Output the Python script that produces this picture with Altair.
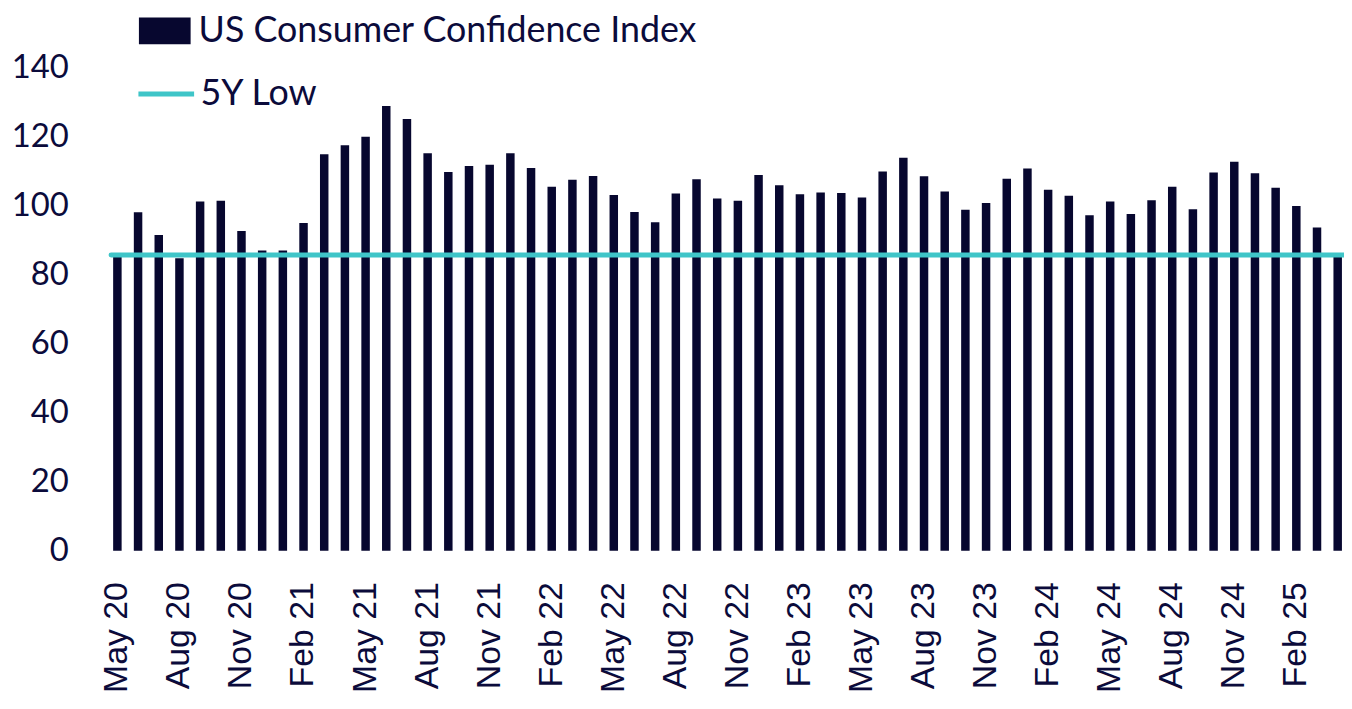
import altair as alt
import pandas as pd

months = [
    "May 20", "Jun 20", "Jul 20", "Aug 20", "Sep 20", "Oct 20", "Nov 20", "Dec 20",
    "Jan 21", "Feb 21", "Mar 21", "Apr 21", "May 21", "Jun 21", "Jul 21", "Aug 21",
    "Sep 21", "Oct 21", "Nov 21", "Dec 21",
    "Jan 22", "Feb 22", "Mar 22", "Apr 22", "May 22", "Jun 22", "Jul 22", "Aug 22",
    "Sep 22", "Oct 22", "Nov 22", "Dec 22",
    "Jan 23", "Feb 23", "Mar 23", "Apr 23", "May 23", "Jun 23", "Jul 23", "Aug 23",
    "Sep 23", "Oct 23", "Nov 23", "Dec 23",
    "Jan 24", "Feb 24", "Mar 24", "Apr 24", "May 24", "Jun 24", "Jul 24", "Aug 24",
    "Sep 24", "Oct 24", "Nov 24", "Dec 24",
    "Jan 25", "Feb 25", "Mar 25", "Apr 25",
]

cci_values = [
    85.9, 98.1, 91.5, 84.8, 101.2, 101.4, 92.7, 87.0,
    87.0, 95.0, 114.9, 117.5, 120.0, 128.9, 125.1, 115.2,
    109.8, 111.5, 111.9, 115.2,
    110.9, 105.5, 107.5, 108.6, 103.1, 98.2, 95.2, 103.5,
    107.7, 102.1, 101.4, 108.9,
    105.9, 103.3, 103.8, 103.7, 102.4, 109.9, 113.9, 108.5,
    104.1, 98.8, 100.8, 107.8,
    110.8, 104.6, 102.9, 97.2, 101.2, 97.6, 101.6, 105.5,
    99.0, 109.6, 112.7, 109.4,
    105.2, 99.9, 93.7, 85.6,
]

tick_labels = ["May 20", "Aug 20", "Nov 20", "Feb 21", "May 21", "Aug 21", "Nov 21",
               "Feb 22", "May 22", "Aug 22", "Nov 22", "Feb 23", "May 23", "Aug 23",
               "Nov 23", "Feb 24", "May 24", "Aug 24", "Nov 24", "Feb 25"]

low_value = [85.7]
bar_series = "US Consumer Confidence Index"
line_series = "5Y Low"

NAVY = "#07072F"
TEXT = "#0B0B3B"
TEAL = "#3FC5C8"

bars_df = pd.DataFrame({"month": months, "value": cci_values, "series": bar_series})
line_df = pd.DataFrame({"value": low_value, "series": [line_series]})

x = alt.X(
    "month:N",
    sort=months,
    scale=alt.Scale(paddingInner=0.59, paddingOuter=0.1),
    axis=alt.Axis(
        values=tick_labels, title=None, labelAngle=270, labelAlign="right",
        labelBaseline="middle", labelFont="Liberation Sans", labelFontSize=34,
        labelColor=TEXT, ticks=False, domain=False, labelPadding=31,
        labelOverlap=False,
    ),
)
y_axis = alt.Axis(
    values=[0, 20, 40, 60, 80, 100, 120, 140], title=None, labelFont="Lato",
    labelFontSize=33, labelColor=TEXT, ticks=False, domain=False, grid=False,
    labelPadding=43,
)

bars = alt.Chart(bars_df).mark_bar(color=NAVY).encode(
    x=x,
    y=alt.Y("value:Q", scale=alt.Scale(domain=[0, 140], nice=False), axis=y_axis),
    color=alt.Color(
        "series:N",
        scale=alt.Scale(domain=[bar_series], range=[NAVY]),
        legend=alt.Legend(
            title=None, orient="none", legendX=28, legendY=-63, padding=0,
            symbolType="M-1,-0.52H1V0.52H-1Z", symbolSize=2704,
            labelFont="Lato", labelFontSize=36, labelColor=TEXT, labelOffset=8,
            labelLimit=0, symbolStrokeWidth=0, symbolOpacity=1,
        ),
    ),
)

rule = alt.Chart(line_df).mark_rule(strokeWidth=5, strokeCap="round").encode(
    y="value:Q",
    stroke=alt.Stroke(
        "series:N",
        scale=alt.Scale(domain=[line_series], range=[TEAL]),
        legend=alt.Legend(
            title=None, orient="none", legendX=25, legendY=-4, padding=0,
            symbolType="stroke", symbolSize=3136, symbolStrokeWidth=5,
            labelFont="Lato", labelFontSize=36, labelColor=TEXT, labelOffset=4,
            labelLimit=0,
        ),
    ),
)

chart = alt.layer(bars, rule).properties(
    width=1240, height=486,
    autosize=alt.AutoSizeParams(type="none"),
    padding={"left": 103.67, "top": 58, "right": 0, "bottom": 146},
).configure(background="white").configure_view(stroke=None, strokeWidth=0)

chart.save("out.html", embed_options={"renderer": "svg", "actions": False})
